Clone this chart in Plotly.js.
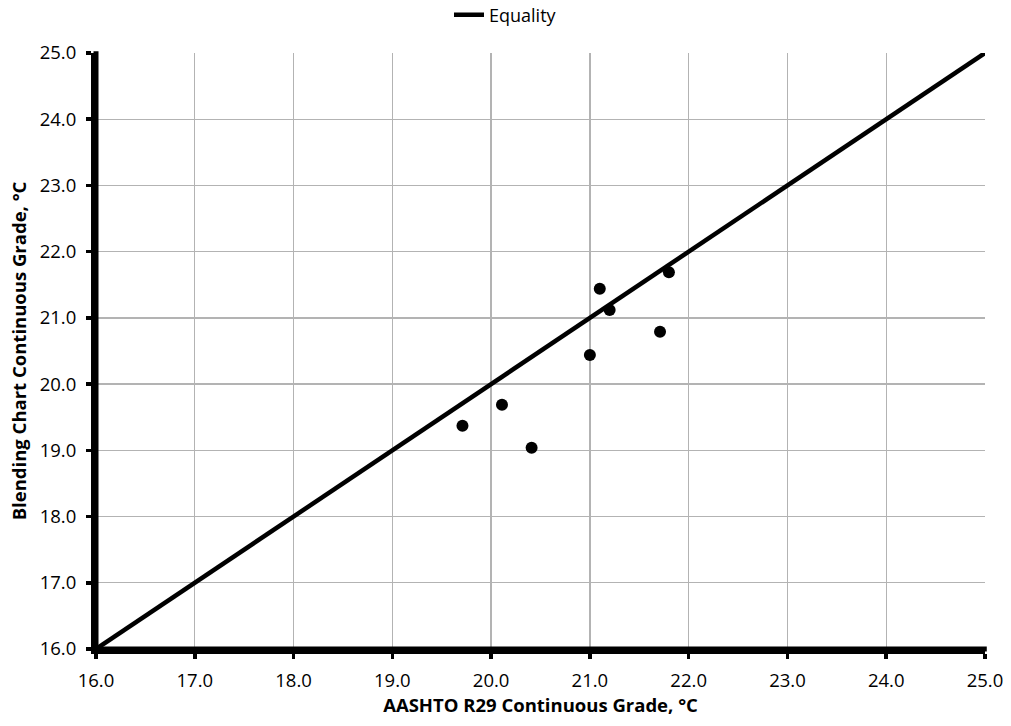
<!DOCTYPE html>
<html>
<head>
<meta charset="utf-8">
<script src="https://cdn.plot.ly/plotly-3.0.1.min.js"></script>
<style>html,body{margin:0;padding:0;background:#fff;}#chart{width:1011px;height:726px;}</style>
</head>
<body>
<div id="chart"></div>
<script>
const aashtoGrade = [19.71, 20.11, 20.41, 21.00, 21.10, 21.20, 21.71, 21.80];
const blendingGrade = [19.37, 19.69, 19.04, 20.44, 21.44, 21.12, 20.79, 21.69];
const equalityX = [16, 25];
const equalityY = [16, 25];
const tickVals = [16, 17, 18, 19, 20, 21, 22, 23, 24, 25];
const tickText = tickVals.map(v => v.toFixed(1));

const font = "'Open Sans', 'Noto Sans', sans-serif";

const traces = [
  {
    x: aashtoGrade, y: blendingGrade, type: 'scatter', mode: 'markers',
    marker: {color: '#000', size: 12}, showlegend: false, name: 'Data', cliponaxis: false
  },
  {
    x: equalityX, y: equalityY, type: 'scatter', mode: 'lines',
    line: {color: '#000', width: 4.5}, name: 'Equality', cliponaxis: false
  }
];

const axisCommon = {
  range: [16, 25], tickvals: tickVals, ticktext: tickText,
  showgrid: true, gridcolor: '#b3b3b3', gridwidth: 1.3,
  zeroline: false, showline: true, linecolor: '#000', linewidth: 5,
  ticks: 'outside', ticklen: 5, tickwidth: 3.5, tickcolor: '#000',
  tickfont: {size: 18.5}, automargin: false
};

const layout = {
  width: 1011, height: 726,
  margin: {l: 96, r: 26, t: 53, b: 77},
  paper_bgcolor: '#fff', plot_bgcolor: '#fff',
  font: {family: font, size: 18.5, color: '#000'},
  showlegend: true,
  legend: {orientation: 'h', x: 449 / 1011, xanchor: 'left', xref: 'container',
           y: 1 - 15 / 726, yref: 'container', yanchor: 'middle',
           font: {size: 18}, itemwidth: 30, bgcolor: 'rgba(0,0,0,0)'},
  xaxis: Object.assign({}, axisCommon, {
    ticklabelstandoff: 6,
    title: {text: '<b>AASHTO R29 Continuous Grade, °C</b>', font: {size: 18.5}, standoff: 8}
  }),
  yaxis: Object.assign({}, axisCommon, {
    ticklabelstandoff: 6,
    title: {text: '<b>Blending Chart Continuous Grade, °C</b>', font: {size: 18.5}, standoff: 10}
  }),
  shapes: [
    {type: 'line', xref: 'paper', yref: 'paper', x0: 0, x1: 0, y0: -0.004, y1: 1.003,
     line: {color: '#000', width: 5}, layer: 'above'},
    {type: 'line', xref: 'paper', yref: 'paper', x0: -0.003, x1: 1.002, y0: 0, y1: 0,
     line: {color: '#000', width: 5}, layer: 'above'}
  ]
};

Plotly.newPlot('chart', traces, layout, {displayModeBar: false, staticPlot: true});
</script>
</body>
</html>
